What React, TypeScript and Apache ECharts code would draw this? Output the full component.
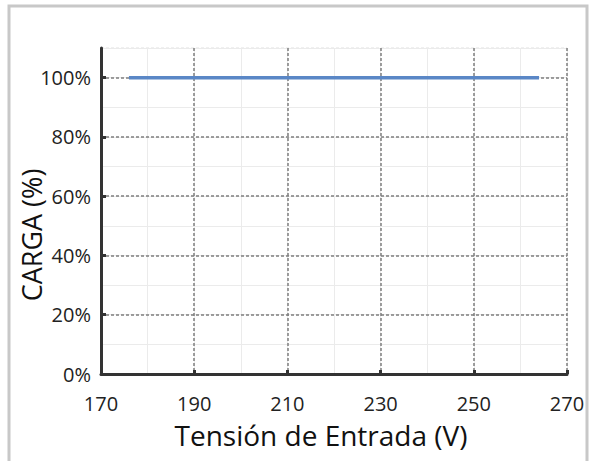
import React, { useEffect, useRef } from "react";
import * as echarts from "echarts";

const voltage: number[] = [176, 264];
const load: number[] = [100, 100];
const xTicks: number[] = [170, 190, 210, 230, 250, 270];
const yTicks: number[] = [0, 20, 40, 60, 80, 100];
const xTitle = "Tensión de Entrada (V)";
const yTitle = "CARGA (%)";

export default function App() {
  const ref = useRef<HTMLDivElement>(null);
  useEffect(() => {
    if (!ref.current) return;
    const chart = echarts.init(ref.current, undefined, { renderer: "svg" });
    const font = "'Open Sans', 'Noto Sans', sans-serif";
    const major = "#7f7f7f";
    const minor = "#ebebeb";
    const grid = { left: 101, right: 23, top: 48, bottom: 87 };
    chart.setOption({
      animation: false,
      backgroundColor: "#ffffff",
      graphic: [
        {
          type: "rect",
          shape: { x: 9, y: 6, width: 578, height: 470 },
          style: { fill: "none", stroke: "#c8c8c8", lineWidth: 3 },
          z: -10,
        },
        {
          type: "text",
          x: 321,
          y: 435,
          style: {
            text: xTitle,
            fontFamily: font,
            fontSize: 28,
            fill: "#111",
            align: "center",
            verticalAlign: "middle",
          },
        },
        {
          type: "text",
          x: 31,
          y: 235,
          rotation: Math.PI / 2,
          style: {
            text: yTitle,
            fontFamily: font,
            fontSize: 27,
            fill: "#111",
            align: "center",
            verticalAlign: "middle",
          },
        },
      ],
      grid: [grid, grid],
      xAxis: [
        {
          type: "value",
          gridIndex: 0,
          min: xTicks[0],
          max: xTicks[xTicks.length - 1],
          interval: 20,
          axisLine: { show: true, lineStyle: { color: "#333", width: 3 } },
          axisTick: { show: true, inside: true, length: 4, lineStyle: { color: "#333", width: 3 } },
          axisLabel: { fontFamily: font, fontSize: 20, color: "#222", margin: 19 },
          splitLine: { show: true, lineStyle: { color: major, type: [3, 2], width: 1.5 } },
          z: 3,
        },
        {
          type: "value",
          gridIndex: 1,
          min: xTicks[0],
          max: xTicks[xTicks.length - 1],
          interval: 10,
          axisLine: { show: false },
          axisTick: { show: false },
          axisLabel: { show: false },
          splitLine: { show: true, lineStyle: { color: minor, width: 1 } },
          z: 0,
        },
      ],
      yAxis: [
        {
          type: "value",
          gridIndex: 0,
          min: yTicks[0],
          max: 110,
          interval: 20,
          axisLine: { show: true, lineStyle: { color: "#333", width: 3 } },
          axisTick: { show: true, inside: true, length: 5, lineStyle: { color: "#333", width: 3 } },
          axisLabel: {
            fontFamily: font,
            fontSize: 20,
            color: "#222",
            margin: 10,
            showMaxLabel: false,
            formatter: (v: number) => (yTicks.includes(v) ? v + "%" : ""),
          },
          splitLine: {
            show: true,
            lineStyle: {
              color: [major, major, major, major, major, major, minor],
              type: [3, 2],
              width: 1.5,
            },
          },
          z: 3,
        },
        {
          type: "value",
          gridIndex: 1,
          min: 0,
          max: 110,
          interval: 10,
          axisLine: { show: false },
          axisTick: { show: false },
          axisLabel: { show: false },
          splitLine: { show: true, lineStyle: { color: minor, width: 1 } },
          z: 0,
        },
      ],
      series: [
        {
          type: "line",
          xAxisIndex: 0,
          yAxisIndex: 0,
          data: voltage.map((v, i) => [v, load[i]]),
          symbol: "none",
          lineStyle: { color: "#5a87c6", width: 3.5 },
          z: 5,
        },
      ],
    });
    return () => chart.dispose();
  }, []);
  return (
    <div
      ref={ref}
      style={{ position: "absolute", left: 0, top: 0, width: 590, height: 461 }}
    />
  );
}
